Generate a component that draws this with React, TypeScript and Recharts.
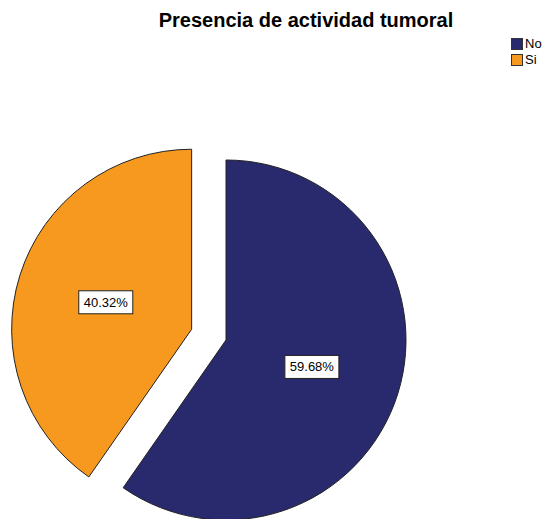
import React from 'react';
import { PieChart, Pie, Cell, Legend } from 'recharts';

const categories = ['No', 'Si'];
const counts = [37, 25];
const colors = ['#29296E', '#F7991F'];
const title = 'Presencia de actividad tumoral';

const data = categories.map((name, i) => ({ name, value: counts[i] }));
const total = counts.reduce((a, b) => a + b, 0);

const W = 547;
const H = 519;
const CX = 226;
const CY = 340;
const R = 180;
const EXPLODE = 36;
const EXPLODED_INDEX = 1;

// mid-angle fraction of exploded slice (clockwise from 12 o'clock)
const before = counts.slice(0, EXPLODED_INDEX).reduce((a, b) => a + b, 0);
const midFrac = (before + counts[EXPLODED_INDEX] / 2) / total;
const CX2 = CX + EXPLODE * Math.sin(2 * Math.PI * midFrac);
const CY2 = CY - EXPLODE * Math.cos(2 * Math.PI * midFrac);

const RADIAN = Math.PI / 180;
const makeLabel = (only: number) => (props: any) => {
  const { cx, cy, midAngle, outerRadius, percent, index } = props;
  if (index !== only) return null;
  const r = outerRadius * 0.5;
  const x = cx + r * Math.cos(-midAngle * RADIAN);
  const y = cy + r * Math.sin(-midAngle * RADIAN);
  const txt = `${(percent * 100).toFixed(2)}%`;
  const bw = 54;
  const bh = 23;
  return (
    <g>
      <rect x={x - bw / 2} y={y - bh / 2} width={bw} height={bh} fill="#FFFFFF" stroke="#222222" strokeWidth={1} />
      <text x={x} y={y} textAnchor="middle" dominantBaseline="central" fontSize={13} fontFamily="Liberation Sans, Arial, sans-serif" fill="#000000">
        {txt}
      </text>
    </g>
  );
};

const LegendContent = () => (
  <div style={{ fontFamily: 'Liberation Sans, Arial, sans-serif', fontSize: 13, color: '#000' }}>
    {categories.map((c, i) => (
      <div key={c} style={{ display: 'flex', alignItems: 'center', height: 16 }}>
        <div style={{ width: 10, height: 10, background: colors[i], border: '1px solid #333', marginRight: 2 }} />
        <span style={{ lineHeight: '16px' }}>{c}</span>
      </div>
    ))}
  </div>
);

export default function App() {
  return (
    <div style={{ position: 'absolute', left: 0, top: 0, width: W, height: H, background: '#fff', overflow: 'hidden' }}>
      <div
        style={{
          position: 'absolute',
          left: 0,
          width: 612,
          top: 8,
          textAlign: 'center',
          fontFamily: 'Liberation Sans, Arial, sans-serif',
          fontWeight: 'bold',
          fontSize: 20,
          lineHeight: '24px',
          color: '#000',
          whiteSpace: 'nowrap',
        }}
      >
        {title}
      </div>
      <PieChart width={W} height={H} margin={{ top: 0, right: 0, bottom: 0, left: 0 }}>
        <Pie
          data={data}
          dataKey="value"
          nameKey="name"
          cx={CX}
          cy={CY}
          outerRadius={R}
          startAngle={90}
          endAngle={-270}
          isAnimationActive={false}
          labelLine={false}
          label={makeLabel(0)}
          legendType="none"
        >
          {data.map((d, i) => (
            <Cell key={d.name} fill={i === EXPLODED_INDEX ? 'none' : colors[i]} stroke={i === EXPLODED_INDEX ? 'none' : '#222'} strokeWidth={1} />
          ))}
        </Pie>
        <Pie
          data={data}
          dataKey="value"
          nameKey="name"
          cx={CX2}
          cy={CY2}
          outerRadius={R}
          startAngle={90}
          endAngle={-270}
          isAnimationActive={false}
          labelLine={false}
          label={makeLabel(EXPLODED_INDEX)}
          legendType="none"
        >
          {data.map((d, i) => (
            <Cell key={d.name} fill={i === EXPLODED_INDEX ? colors[i] : 'none'} stroke={i === EXPLODED_INDEX ? '#222' : 'none'} strokeWidth={1} />
          ))}
        </Pie>
        <Legend
          content={<LegendContent />}
          wrapperStyle={{ position: 'absolute', left: 511, top: 36, width: 36, height: 34 }}
        />
      </PieChart>
    </div>
  );
}
